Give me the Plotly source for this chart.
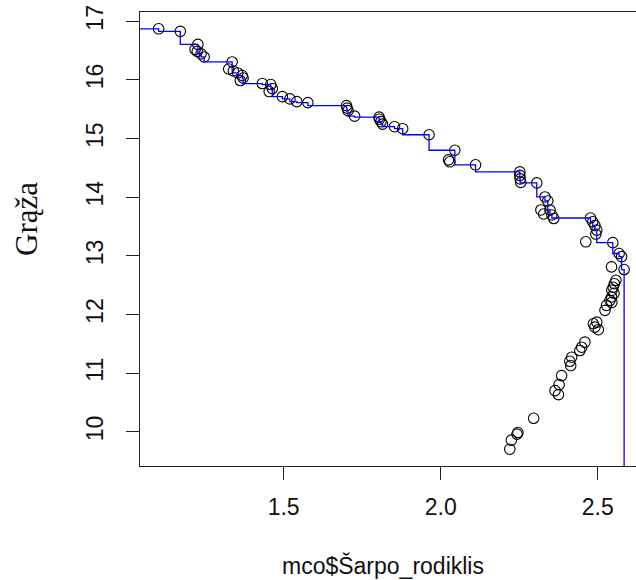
import numpy as np
import plotly.graph_objects as go

# Sharpe ratio (x) and return (y) of the simulated portfolios
sharpe = [
    1.102, 1.171, 1.227, 1.218, 1.225, 1.237, 1.247, 1.336, 1.325, 1.340,
    1.354, 1.368, 1.362, 1.371, 1.432, 1.459, 1.464, 1.454, 1.496, 1.520,
    1.542, 1.577, 1.700, 1.702, 1.705, 1.726, 1.804, 1.805, 1.810, 1.815,
    1.853, 1.879, 1.963, 2.045, 2.029, 2.025, 2.111, 2.252, 2.252, 2.253,
    2.255, 2.306, 2.332, 2.341, 2.319, 2.328, 2.348, 2.354, 2.360, 2.477,
    2.484, 2.491, 2.497, 2.494, 2.462, 2.548, 2.568, 2.576, 2.584, 2.544,
    2.558, 2.553, 2.549, 2.545, 2.552, 2.544, 2.539, 2.545, 2.528, 2.523,
    2.497, 2.486, 2.491, 2.502, 2.459, 2.449, 2.443, 2.417, 2.411, 2.414,
    2.385, 2.377, 2.364, 2.375, 2.296, 2.246, 2.243, 2.225, 2.220,
]
returns = [
    16.872, 16.829, 16.606, 16.521, 16.487, 16.444, 16.392, 16.307, 16.187, 16.153,
    16.119, 16.076, 15.990, 16.033, 15.939, 15.922, 15.853, 15.802, 15.716, 15.677,
    15.631, 15.614, 15.562, 15.520, 15.477, 15.383, 15.366, 15.331, 15.289, 15.246,
    15.203, 15.169, 15.066, 14.801, 14.604, 14.638, 14.553, 14.433, 14.373, 14.313,
    14.253, 14.245, 14.005, 13.937, 13.783, 13.714, 13.783, 13.697, 13.637, 13.646,
    13.582, 13.517, 13.440, 13.372, 13.240, 13.226, 13.041, 12.987, 12.767, 12.812,
    12.584, 12.525, 12.465, 12.413, 12.362, 12.299, 12.242, 12.208, 12.157, 12.071,
    11.871, 11.843, 11.785, 11.741, 11.529, 11.443, 11.386, 11.272, 11.203, 11.130,
    10.959, 10.805, 10.702, 10.634, 10.231, 9.988, 9.961, 9.858, 9.704,
]

x_ticks = [1.5, 2.0, 2.5]
y_ticks = [10, 11, 12, 13, 14, 15, 16, 17]

# Pareto frontier: portfolios not beaten on both Sharpe ratio and return
xs = np.array(sharpe)
ys = np.array(returns)
order = np.argsort(-xs)
front_x, front_y = [], []
best = -np.inf
for i in order:
    if ys[i] > best:
        front_x.append(xs[i])
        front_y.append(ys[i])
        best = ys[i]
front_x = front_x[::-1]
front_y = front_y[::-1]
# extend the staircase to the left edge and down past the bottom
front_x = [0.0] + front_x + [front_x[-1]]
front_y = [front_y[0]] + front_y + [0.0]

# axis ranges with R-style 4% padding
xpad = 0.04 * (xs.max() - xs.min())
ypad = 0.04 * (ys.max() - ys.min())
x_range = [xs.min() - xpad, 1.5 + (636 - 284.3) / 313.5]
y_range = [ys.min() - ypad, ys.max() + ypad]

fig = go.Figure()
fig.add_trace(go.Scatter(
    x=sharpe, y=returns, mode="markers",
    marker=dict(symbol="circle-open", size=10.5, color="black",
                line=dict(color="black", width=1.1)),
    showlegend=False,
))
fig.add_trace(go.Scatter(
    x=front_x, y=front_y, mode="lines",
    line=dict(color="#0000ff", width=1.3, shape="vh"),
    showlegend=False,
))

tick_font = dict(family="Liberation Sans, Arial, sans-serif", size=23, color="#111")

fig.update_layout(
    width=636, height=580,
    margin=dict(l=140, r=0, t=12, b=114),
    paper_bgcolor="white", plot_bgcolor="white",
    xaxis=dict(
        range=x_range, tickvals=x_ticks, ticktext=["1.5", "2.0", "2.5"],
        showgrid=False, zeroline=False,
        showline=True, mirror=True, linecolor="#222", linewidth=1,
        ticks="outside", ticklen=13, tickcolor="#222", tickwidth=1,
        tickfont=tick_font, ticklabelstandoff=7, automargin=False,
    ),
    yaxis=dict(
        range=y_range, tickvals=y_ticks,
        showgrid=False, zeroline=False,
        showline=True, linecolor="#222", linewidth=1,
        ticks="outside", ticklen=13, tickcolor="#222", tickwidth=1,
        tickfont=tick_font, tickangle=-90, ticklabelstandoff=14,
        automargin=False,
    ),
    annotations=[
        dict(text="mco$Šarpo_rodiklis", xref="paper", yref="paper",
             x=0.489, y=-0.22, xanchor="center", yanchor="middle",
             showarrow=False,
             font=dict(family="Liberation Sans, Arial, sans-serif", size=23, color="#111")),
        dict(text="Grąža", xref="paper", yref="paper",
             x=-0.23, y=0.544, xanchor="center", yanchor="middle",
             textangle=-90, showarrow=False,
             font=dict(family="Liberation Serif, Times New Roman, serif", size=31, color="#111")),
    ],
)

fig.write_html("out.html")
